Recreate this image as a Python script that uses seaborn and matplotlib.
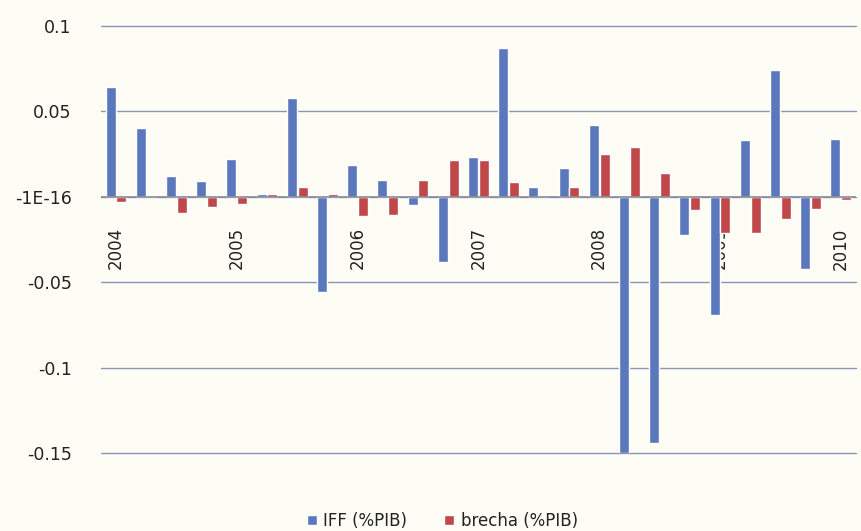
import matplotlib
matplotlib.use("Agg")
import matplotlib.pyplot as plt
import seaborn as sns
import pandas as pd
import numpy as np

years = ["2004", "2005", "2006", "2007", "2008", "2009", "2010"]
quarters = ["2004Q1", "2004Q2", "2004Q3", "2004Q4",
            "2005Q1", "2005Q2", "2005Q3", "2005Q4",
            "2006Q1", "2006Q2", "2006Q3", "2006Q4",
            "2007Q1", "2007Q2", "2007Q3", "2007Q4",
            "2008Q1", "2008Q2", "2008Q3", "2008Q4",
            "2009Q1", "2009Q2", "2009Q3", "2009Q4",
            "2010Q1"]
iff = [0.064, 0.040, 0.012, 0.009,
       0.022, 0.0016, 0.058, -0.056,
       0.0185, 0.010, -0.0047, -0.038,
       0.0235, 0.087, 0.0057, 0.017,
       0.042, -0.150, -0.144, -0.0225,
       -0.069, 0.033, 0.074, -0.042,
       0.034]
brecha = [-0.003, 0.0, -0.0097, -0.006,
          -0.004, 0.0014, 0.0058, 0.0017,
          -0.0115, -0.0105, 0.010, 0.0215,
          0.0215, 0.0084, 0.0, 0.0058,
          0.0248, 0.0289, 0.014, -0.0077,
          -0.021, -0.021, -0.013, -0.0074,
          -0.002]
series_names = ["IFF (%PIB)", "brecha (%PIB)"]
yticks = [0.1, 0.05, 0.0, -0.05, -0.1, -0.15]
ytick_labels = ["0.1", "0.05", "-1E-16", "-0.05", "-0.1", "-0.15"]

df = pd.DataFrame({
    "quarter": quarters * 2,
    "value": iff + brecha,
    "serie": [series_names[0]] * len(quarters) + [series_names[1]] * len(quarters),
})

bg = "#fdfdf6"
sns.set_theme(style="white")
plt.rcParams["font.family"] = ["DejaVu Sans"]

fig = plt.figure(figsize=(8.62, 5.31), dpi=100, facecolor=bg)
ax = fig.add_axes([0.117, 0.147, 0.876, 0.804])
ax.set_facecolor(bg)

sns.barplot(data=df, x="quarter", y="value", hue="serie", order=quarters,
            hue_order=series_names, palette=["#5a78bb", "#c0474a"],
            width=0.72, gap=0.08, saturation=1, ax=ax, legend=True)

ax.set_ylim(-0.15, 0.1)
ax.set_xlim(-0.5, len(quarters) - 0.5)
ax.set_yticks(yticks)
ax.set_yticklabels(ytick_labels, fontsize=12.5, color="#222222")
ax.tick_params(axis="y", length=0, pad=21)
for v in yticks:
    ax.axhline(v, color="#8a94b4", lw=1.0, zorder=0, clip_on=False)
ax.axhline(0, color="#8a8a9a", lw=1.2, zorder=3)

# category axis at zero
ax.spines["bottom"].set_position(("data", 0))
ax.spines["bottom"].set_visible(False)
for s in ["left", "right", "top"]:
    ax.spines[s].set_visible(False)
xlabels = [q[:4] if q.endswith("Q1") else "" for q in quarters]
ax.set_xticks(range(len(quarters)))
ax.set_xticklabels(xlabels, rotation=90, fontsize=12, color="#222222", va="top")
ax.tick_params(axis="x", length=0, pad=22)
ax.set_xlabel("")
ax.set_ylabel("")

leg = ax.legend(loc="lower center", bbox_to_anchor=(0.452, -0.215),
                ncol=2, frameon=False, fontsize=12, handlelength=0.6,
                handleheight=0.6, columnspacing=2.2, handletextpad=0.4)
for t in leg.get_texts():
    t.set_color("#222222")

fig.savefig("out.png", dpi=100, facecolor=bg)
